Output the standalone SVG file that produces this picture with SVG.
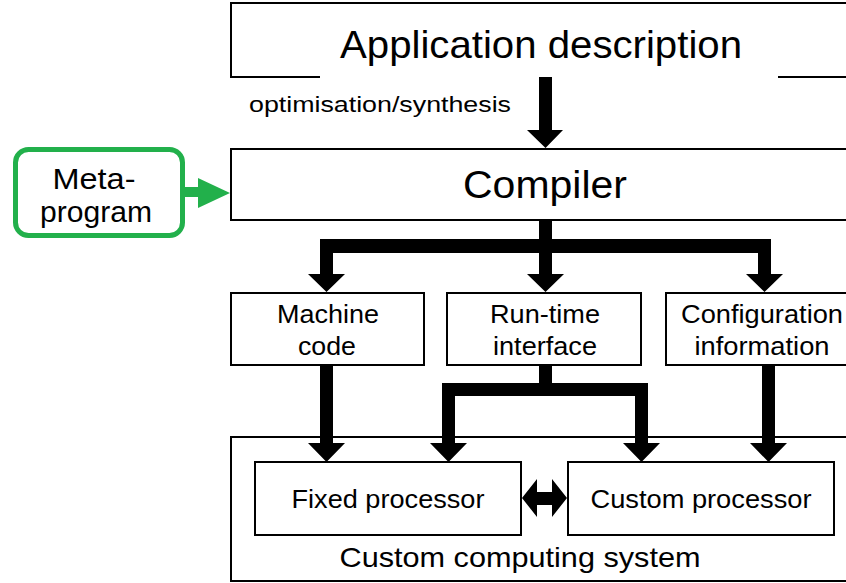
<svg xmlns="http://www.w3.org/2000/svg" width="846" height="583" viewBox="0 0 846 583">
<style>
.box{fill:#fff;stroke:#000;stroke-width:2}
.t{font-family:"Liberation Sans",Arial,sans-serif;fill:#000;text-anchor:middle}
.big{font-size:39px}
.meta{font-size:29px}
.mid{font-size:28px}
.sm{font-size:25px}
.lbl{font-size:22px;text-anchor:start}
.conn{fill:#000;stroke:none}
</style>
<rect x="0" y="0" width="846" height="583" fill="#fff"/>
<g id="app">
<path class="box" d="M850 77 H778 M320 77 H231 V3 H850" fill="none"/>
<text class="t big" x="541" y="58" textLength="402" lengthAdjust="spacingAndGlyphs">Application description</text>
</g>
<text id="label-opt" class="t lbl" x="249" y="112" textLength="262" lengthAdjust="spacingAndGlyphs">optimisation/synthesis</text>
<g id="compiler">
<rect class="box" x="231" y="149" width="620" height="71"/>
<text class="t big" x="545" y="198" textLength="164" lengthAdjust="spacingAndGlyphs">Compiler</text>
</g>
<g id="meta">
<rect x="15.5" y="149.5" width="167" height="86" rx="13" fill="#fff" stroke="#22b04b" stroke-width="5"/>
<text class="t meta" x="94" y="189" textLength="83" lengthAdjust="spacingAndGlyphs">Meta-</text>
<text class="t meta" x="96" y="222" textLength="112" lengthAdjust="spacingAndGlyphs">program</text>
</g>
<g id="machine">
<rect class="box" x="231" y="293" width="193" height="72"/>
<text class="t sm" x="328" y="323" textLength="102" lengthAdjust="spacingAndGlyphs">Machine</text>
<text class="t sm" x="327" y="355" textLength="58" lengthAdjust="spacingAndGlyphs">code</text>
</g>
<g id="runtime">
<rect class="box" x="447" y="293" width="194" height="72"/>
<text class="t sm" x="545" y="323" textLength="110" lengthAdjust="spacingAndGlyphs">Run-time</text>
<text class="t sm" x="545" y="355" textLength="104" lengthAdjust="spacingAndGlyphs">interface</text>
</g>
<g id="config">
<rect class="box" x="666" y="293" width="185" height="72"/>
<text class="t sm" x="762" y="323" textLength="162" lengthAdjust="spacingAndGlyphs">Configuration</text>
<text class="t sm" x="762" y="355" textLength="135" lengthAdjust="spacingAndGlyphs">information</text>
</g>
<g id="system">
<rect class="box" x="231" y="437" width="620" height="144"/>
<text class="t mid" x="520" y="567" textLength="361" lengthAdjust="spacingAndGlyphs">Custom computing system</text>
</g>
<g id="fixed">
<rect class="box" x="255" y="462" width="266" height="73"/>
<text class="t sm" x="388" y="508" textLength="193" lengthAdjust="spacingAndGlyphs">Fixed processor</text>
</g>
<g id="custom">
<rect class="box" x="568" y="462" width="266" height="73"/>
<text class="t sm" x="701" y="508" textLength="221" lengthAdjust="spacingAndGlyphs">Custom processor</text>
</g>
<g id="connectors">
<polygon class="conn" points="539,77 552,77 552,130 563,130 545.5,148 527,130 539,130"/>
<polygon fill="#22b04b" points="185,187 198,187 198,178 230,193 198,208 198,197 185,197"/>
<polygon class="conn" points="539,221 552,221 552,239 771,239 771,274 783,274 764.5,292 746,274 758,274 758,253 552,253 552,274 564,274 545.5,292 527,274 539,274 539,253 333,253 333,274 345,274 326.5,292 308,274 320,274 320,239 539,239"/>
<polygon class="conn" points="320,366 333,366 333,443 345,443 326.5,462 308,443 320,443"/>
<polygon class="conn" points="539,366 552,366 552,383 648,383 648,443 660,443 641.5,462 623,443 635,443 635,396 455,396 455,443 467,443 448.5,462 430,443 442,443 442,383 539,383"/>
<polygon class="conn" points="762,366 775,366 775,443 787,443 768.5,462 750,443 762,443"/>
<polygon class="conn" points="522,498 537,479 537,492 552,492 552,479 567,498 552,517 552,505 537,505 537,517"/>
</g>
</svg>
